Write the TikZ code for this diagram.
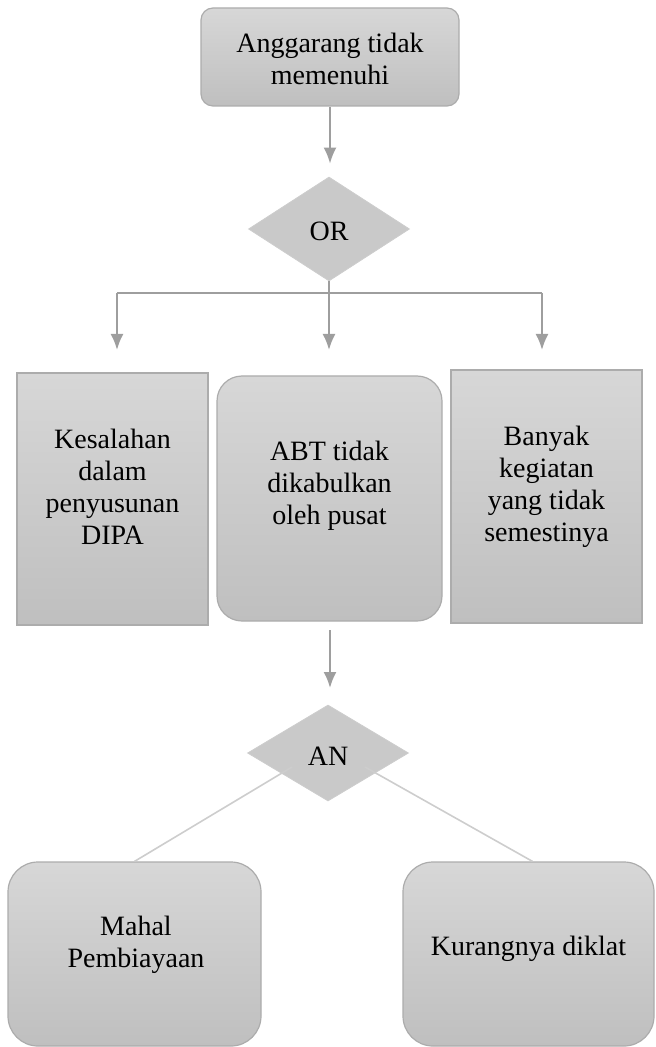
\documentclass[tikz,border=0pt]{standalone}
\usepackage{fontspec}
\setmainfont{Liberation Serif}
\usetikzlibrary{shapes.geometric,arrows.meta}
\definecolor{boxtop}{RGB}{215,215,215}
\definecolor{boxbot}{RGB}{191,191,191}
\definecolor{boxline}{RGB}{172,172,172}
\definecolor{gatefill}{RGB}{201,201,201}
\definecolor{arrowgray}{RGB}{158,158,158}
\definecolor{linkgray}{RGB}{205,205,205}
\tikzset{
  box/.style={draw=boxline,line width=0.6pt,top color=boxtop,bottom color=boxbot,inner sep=0pt},
  gate/.style={diamond,draw=linkgray,fill=gatefill,inner sep=0pt,minimum width=80.5pt},
  txt/.style={align=center,inner sep=0pt,font=\fontsize{14}{16}\selectfont},
  arr/.style={draw=arrowgray,line width=1pt,-{Latex[length=8pt,width=6.5pt]}}
}
\begin{document}
\begin{tikzpicture}[x=0.5pt,y=-0.5pt]
\useasboundingbox (0,0) rectangle (655,1047);

\node[box,rounded corners=6pt,minimum width=129pt,minimum height=49pt] (masalah) at (330,57) {};
\node[txt] (masalahtxt) at (330,59) {Anggarang tidak\\memenuhi};

\node[gate,minimum height=52pt] (or) at (329,229) {};
\node[txt] (ortxt) at (329,231) {OR};

\node[box,minimum width=95.5pt,minimum height=126pt] (kesalahan) at (112.5,499) {};
\node[txt] (kesalahantxt) at (112.5,487) {Kesalahan\\dalam\\penyusunan\\DIPA};
\node[box,rounded corners=12.5pt,minimum width=112.5pt,minimum height=122.5pt] (abt) at (329.5,498.5) {};
\node[txt] (abttxt) at (329.5,486) {ABT tidak\\dikabulkan\\oleh pusat};
\node[box,minimum width=95.5pt,minimum height=126.5pt] (banyak) at (546.5,496.5) {};
\node[txt] (banyaktxt) at (546.5,487) {Banyak\\kegiatan\\yang tidak\\semestinya};

\node[gate,minimum height=48pt] (an) at (328,753) {};
\node[txt] (antxt) at (328,756) {AN};

\node[box,rounded corners=15pt,minimum width=126.5pt,minimum height=92pt] (mahal) at (134.5,954) {};
\node[txt] (mahaltxt) at (136,945) {Mahal\\Pembiayaan};
\node[box,rounded corners=15pt,minimum width=125.5pt,minimum height=92pt] (kurang) at (528.5,954) {};
\node[txt] (kurangtxt) at (528.5,949) {Kurangnya diklat};

\coordinate (bar) at (329,293);
\coordinate (barl) at (117,293);
\coordinate (barr) at (542,293);
\coordinate (tipl) at (117,350);
\coordinate (tipm) at (329,350);
\coordinate (tipr) at (542,350);
\coordinate (andari) at (330,630);
\coordinate (anke) at (330,688);

\draw[arr,shorten >=6.5pt] (masalah.south) -- (masalah.south |- or.north);
\draw[draw=arrowgray,line width=1pt] (or.south) -- (bar);
\draw[draw=arrowgray,line width=1pt] (barl) -- (barr);
\draw[arr] (barl) -- (tipl);
\draw[arr] (bar) -- (tipm);
\draw[arr] (barr) -- (tipr);
\draw[arr] (andari) -- (anke);

\draw[draw=linkgray,line width=0.8pt] (292,767) -- (mahal.north);
\draw[draw=linkgray,line width=0.8pt] (365,767) -- ([xshift=2pt]kurang.north);
\end{tikzpicture}
\end{document}
